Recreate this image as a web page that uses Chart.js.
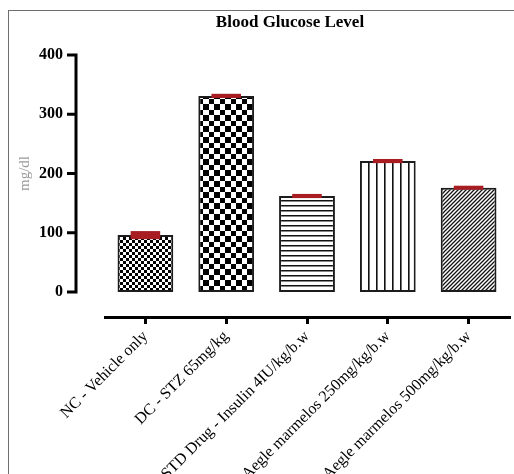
<!DOCTYPE html>
<html>
<head>
<meta charset="utf-8">
<script src="https://cdn.jsdelivr.net/npm/chart.js@4.4.1/dist/chart.umd.min.js"></script>
<style>
  html, body { margin: 0; padding: 0; background: #fff; }
  #wrap { position: relative; width: 514px; height: 474px; overflow: hidden; }
  #frame { position: absolute; left: 8px; top: 10px; width: 600px; height: 600px;
           border-left: 1px solid #6e6e6e; border-top: 1px solid #6e6e6e; }
  #c { position: absolute; left: 0; top: 0; }
</style>
</head>
<body>
<div id="wrap">
  <div id="frame"></div>
  <canvas id="c" width="514" height="474"></canvas>
</div>
<script>
// ---- data ----
const categories = [
  'NC - Vehicle only',
  'DC - STZ 65mg/kg',
  'STD Drug - Insulin 4IU/kg/b.w',
  'Aegle marmelos 250mg/kg/b.w',
  'Aegle marmelos 500mg/kg/b.w'
];
const meanValues = [96, 331, 162, 221, 176];
const semValues = [6.8, 3.5, 3.5, 3.5, 2.5];
const yTickValues = [0, 100, 200, 300, 400];
const chartTitle = 'Blood Glucose Level';
const yAxisTitle = 'mg/dl';

// ---- patterns ----
const mainCanvas = document.getElementById('c');
const mainCtx = mainCanvas.getContext('2d');
function makePattern(w, h, draw) {
  const c = document.createElement('canvas');
  c.width = w; c.height = h;
  const g = c.getContext('2d');
  g.fillStyle = '#fff';
  g.fillRect(0, 0, w, h);
  g.fillStyle = '#000';
  g.strokeStyle = '#000';
  draw(g, w, h);
  return mainCtx.createPattern(c, 'repeat');
}
const patFineCheck = makePattern(6, 6, g => { g.fillRect(0, 0, 3, 3); g.fillRect(3, 3, 3, 3); });
const patCoarseCheck = makePattern(11, 11, g => { g.fillRect(0, 0, 5, 5); g.fillRect(5, 5, 6, 6); });
const patHoriz = makePattern(4, 5, (g, w) => { g.fillStyle = '#111'; g.fillRect(0, 0, w, 1.5); });
const patVert = makePattern(8, 4, (g, w, h) => { g.fillStyle = '#111'; g.fillRect(0, 0, 1.6, h); });
const patDiag = makePattern(4, 4, g => {
  g.lineWidth = 1.25;
  g.strokeStyle = '#111';
  g.beginPath();
  g.moveTo(-1, 5); g.lineTo(5, -1);
  g.moveTo(-1, 1); g.lineTo(1, -1);
  g.moveTo(3, 5); g.lineTo(5, 3);
  g.stroke();
});
const barPatterns = [patFineCheck, patCoarseCheck, patHoriz, patVert, patDiag];

const serif = "'Liberation Serif', 'Times New Roman', serif";

// ---- custom y axis (offset GraphPad style), titles and error caps ----
const decorPlugin = {
  id: 'decor',
  afterDatasetsDraw(chart) {
    const ctx = chart.ctx;
    const y = chart.scales.y;
    const meta = chart.getDatasetMeta(0);
    ctx.save();
    ctx.fillStyle = '#a81d22';
    meta.data.forEach((bar, i) => {
      let top = y.getPixelForValue(meanValues[i] + semValues[i]);
      let bot = y.getPixelForValue(meanValues[i] - semValues[i]);
      if (bot - top < 4) { const m = (top + bot) / 2; top = m - 2; bot = m + 2; }
      const capW = bar.width * 0.53;
      ctx.fillRect(bar.x - capW / 2, top, capW, bot - top);
    });
    ctx.restore();
  },
  afterDraw(chart) {
    const ctx = chart.ctx;
    const y = chart.scales.y;
    const axisX = 76;
    const yTop = y.getPixelForValue(yTickValues[yTickValues.length - 1]);
    const yBot = y.getPixelForValue(yTickValues[0]);
    ctx.save();
    ctx.strokeStyle = '#000';
    ctx.lineWidth = 3;
    ctx.lineCap = 'butt';
    ctx.beginPath();
    ctx.moveTo(axisX, yTop - 1.5);
    ctx.lineTo(axisX, yBot + 1.5);
    yTickValues.forEach(v => {
      const p = y.getPixelForValue(v);
      ctx.moveTo(67, p);
      ctx.lineTo(axisX, p);
    });
    ctx.stroke();
    // chart title
    ctx.fillStyle = '#000';
    ctx.font = 'bold 17px ' + serif;
    ctx.textAlign = 'center';
    ctx.textBaseline = 'middle';
    ctx.fillText(chartTitle, 290, 23);
    // y axis title
    ctx.translate(25, (yTop + yBot) / 2);
    ctx.rotate(-Math.PI / 2);
    ctx.fillStyle = '#9a9a9a';
    ctx.font = '15px ' + serif;
    ctx.fillText(yAxisTitle, 0, 0);
    ctx.restore();
  }
};

new Chart(mainCanvas, {
  type: 'bar',
  data: {
    labels: categories,
    datasets: [{
      data: meanValues,
      backgroundColor: barPatterns,
      borderColor: '#1c1c1c',
      borderWidth: 2,
      borderSkipped: false,
      barPercentage: 0.69,
      categoryPercentage: 1.0
    }]
  },
  options: {
    responsive: false,
    animation: false,
    devicePixelRatio: 1,
    layout: { padding: { left: 0, right: 5, top: 55, bottom: 0 } },
    plugins: {
      legend: { display: false },
      tooltip: { enabled: false },
      title: { display: false }
    },
    scales: {
      x: {
        offset: true,
        grid: {
          display: true,
          offset: false,
          drawOnChartArea: false,
          drawTicks: true,
          tickLength: 7,
          lineWidth: 3,
          color: '#000'
        },
        border: { display: true, color: '#000', width: 3 },
        ticks: {
          autoSkip: false,
          minRotation: 45,
          maxRotation: 45,
          padding: 3,
          color: '#000',
          font: { family: serif, size: 16 }
        },
        afterFit(scale) { scale.height = 157; }
      },
      y: {
        min: -42.2,
        max: 400,
        grid: { display: false, drawTicks: false },
        border: { display: false },
        ticks: {
          padding: 42,
          color: '#000',
          font: { family: serif, size: 16, weight: 'bold' }
        },
        afterBuildTicks(scale) { scale.ticks = yTickValues.map(v => ({ value: v })); },
        afterFit(scale) { scale.width = 105; }
      }
    }
  },
  plugins: [decorPlugin]
});
</script>
</body>
</html>
